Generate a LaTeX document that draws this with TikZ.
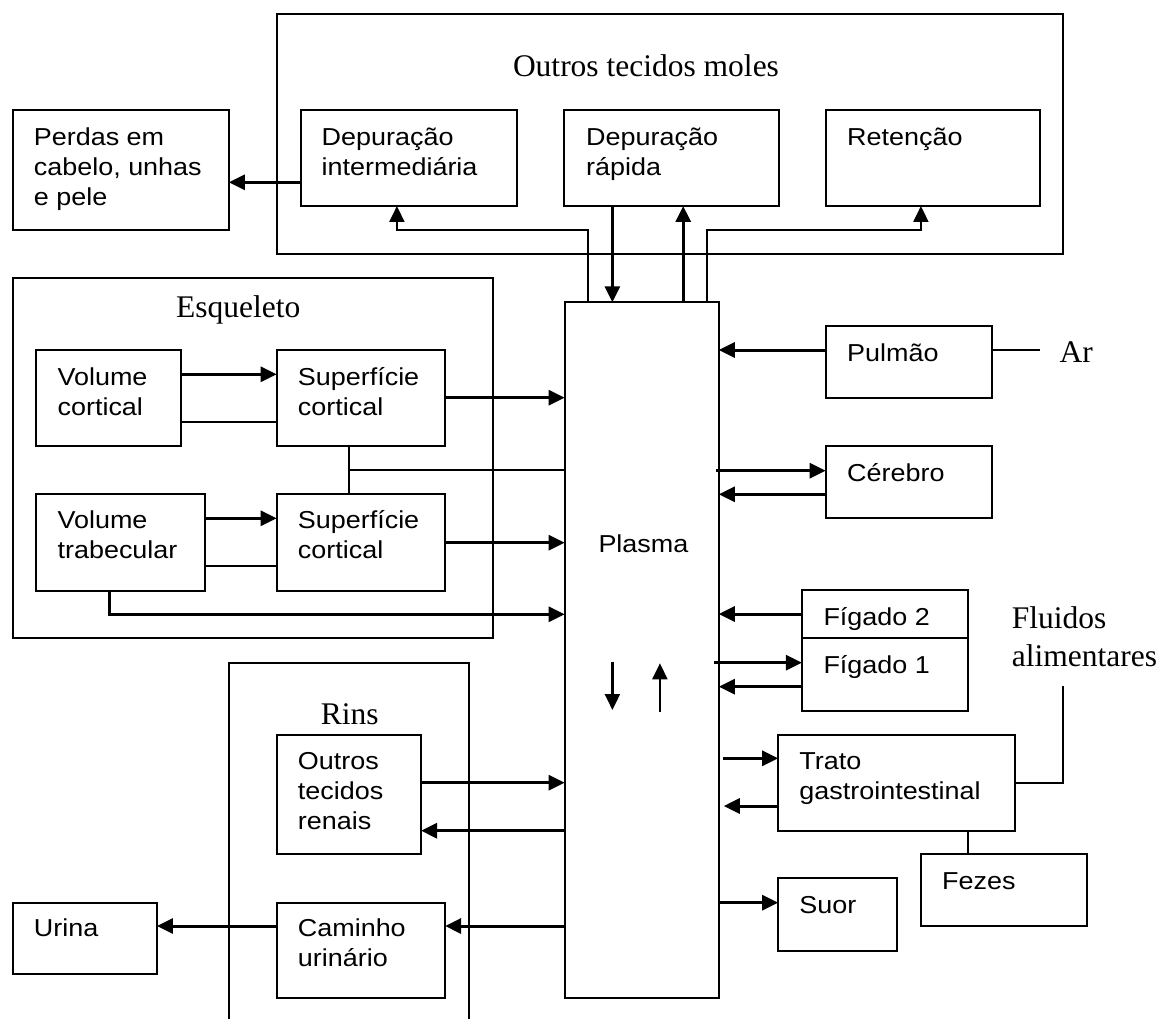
\documentclass[tikz,border=0pt]{standalone}
\usepackage{fontspec}
\setmainfont{Liberation Serif}
\newfontfamily\arialf[FakeStretch=1.1]{Liberation Sans}
\usetikzlibrary{arrows.meta}
\tikzset{
 box/.style={draw, line width=2pt, rectangle, inner sep=0pt, outer sep=0pt, anchor=north west},
 arr/.style={line width=3pt, -{Triangle[length=16pt,width=15pt]}},
 thinarr/.style={line width=2.2pt, -{Triangle[length=16pt,width=15pt]}},
 route/.style={line width=2pt, -{Triangle[length=16pt,width=15pt]}},
 plain/.style={line width=1.8pt},
 lbl/.style={font=\arialf\fontsize{24.5}{30}\selectfont, anchor=base west, inner sep=0pt},
 ttl/.style={font=\fontsize{31.5}{37.7}\selectfont, anchor=base west, inner sep=0pt},
}
\newcommand\mlines[1]{\vtop{#1}}
\begin{document}
\begin{tikzpicture}[x=1pt,y=-1pt]
\useasboundingbox (0,0) rectangle (1167,1019);
% group boxes
\node[box, minimum width=786.6pt, minimum height=240.3pt] (outros) at (276.7,14) {};
\node[box, minimum width=480.3pt, minimum height=360pt] (esq) at (12.6,278.3) {};
\draw[line width=2pt] (228.9,1019) -- (228.9,662.7) -- (469.2,662.7) -- (469.2,1019);
% titles
\node[ttl] (tOutros) at (512.8,76.7) {Outros tecidos moles};
\node[ttl] (tEsq) at (176,317.7) {Esqueleto};
\node[ttl] (tRins) at (320.7,724) {Rins};
\node[ttl] (tAr) at (1059.4,362.7) {Ar};
\node[ttl] (tFluid) at (1011.6,628.3) {\mlines{\hbox{Fluidos}\hbox{alimentares}}};
% boxes
\node[box, minimum width=216.3pt, minimum height=120pt] (perdas) at (12.6,110) {};
\node[box, minimum width=216.2pt, minimum height=96pt] (depi) at (301.2,110) {};
\node[box, minimum width=215.1pt, minimum height=96pt] (depr) at (563.8,110) {};
\node[box, minimum width=213.9pt, minimum height=96pt] (ret) at (825.6,110) {};
\node[box, minimum width=144.2pt, minimum height=96pt] (vc) at (36.4,350) {};
\node[box, minimum width=168.4pt, minimum height=96pt] (sc1) at (276.7,350) {};
\node[box, minimum width=168.3pt, minimum height=96.7pt] (vt) at (36.4,494) {};
\node[box, minimum width=168.4pt, minimum height=96.7pt] (sc2) at (276.7,494) {};
\node[box, minimum width=154.2pt, minimum height=696pt] (plasma) at (564.6,302.3) {};
\node[box, minimum width=166.4pt, minimum height=72.3pt] (pulmao) at (825.6,326) {};
\node[box, minimum width=166.4pt, minimum height=72.6pt] (cerebro) at (825.6,445.7) {};
\node[box, minimum width=166.4pt, minimum height=48.3pt] (fig2) at (801.9,590) {};
\node[lbl] (lFig2) at (823.3,625) {Fígado 2};
\node[box, fill=white, minimum width=166.4pt, minimum height=72.4pt] (fig1) at (801.9,638.3) {};
\node[box, minimum width=237.3pt, minimum height=96pt] (trato) at (778.1,734.7) {};
\node[box, minimum width=166.5pt, minimum height=71.7pt] (fezes) at (920.5,854.3) {};
\node[box, minimum width=119.1pt, minimum height=72.4pt] (suor) at (778.1,878.3) {};
\node[box, minimum width=144.3pt, minimum height=119.3pt] (otr) at (276.7,735) {};
\node[box, minimum width=168.4pt, minimum height=95.6pt] (caminho) at (276.7,902.7) {};
\node[box, minimum width=144.3pt, minimum height=71.6pt] (urina) at (12.6,902.7) {};
% labels
\node[lbl] (lPerdas) at (33.7,145.7) {\mlines{\hbox{Perdas em}\hbox{cabelo, unhas}\hbox{e pele}}};
\node[lbl] (lDepi) at (321.5,145.7) {\mlines{\hbox{Depuração}\hbox{intermediária}}};
\node[lbl] (lDepr) at (586,145.7) {\mlines{\hbox{Depuração}\hbox{rápida}}};
\node[lbl] (lRet) at (847,145.7) {Retenção};
\node[lbl] (lVc) at (57.4,385) {\mlines{\hbox{Volume}\hbox{cortical}}};
\node[lbl] (lSc1) at (297.7,385) {\mlines{\hbox{Superfície}\hbox{cortical}}};
\node[lbl] (lVt) at (57.4,528.3) {\mlines{\hbox{Volume}\hbox{trabecular}}};
\node[lbl] (lSc2) at (297.7,528.3) {\mlines{\hbox{Superfície}\hbox{cortical}}};
\node[lbl] (lPlasma) at (598.3,552.7) {Plasma};
\node[lbl] (lPulmao) at (847,361.7) {Pulmão};
\node[lbl] (lCerebro) at (847,481.7) {Cérebro};
\node[lbl] (lFig1) at (823.3,673.3) {Fígado 1};
\node[lbl] (lTrato) at (799.2,769.3) {\mlines{\hbox{Trato}\hbox{gastrointestinal}}};
\node[lbl] (lFezes) at (942,889.3) {Fezes};
\node[lbl] (lSuor) at (799.2,913.3) {Suor};
\node[lbl] (lOtr) at (297.7,769.3) {\mlines{\hbox{Outros}\hbox{tecidos}\hbox{renais}}};
\node[lbl] (lCam) at (297.7,936.7) {\mlines{\hbox{Caminho}\hbox{urinário}}};
\node[lbl] (lUrina) at (33.7,936.7) {Urina};
% connectors top
\draw[arr] (depi.west |- 0,182.3) -- (perdas.east |- 0,182.3);
\draw[route] (plasma.north -| 588,0) |- (396.9,230) -- (depi.south -| 396.9,0);
\draw[arr] (depr.south -| 612.4,0) -- (plasma.north -| 612.4,0);
\draw[arr] (plasma.north -| 683.2,0) -- (depr.south -| 683.2,0);
\draw[route] (plasma.north -| 707,0) |- (920.9,230) -- (ret.south -| 920.9,0);
% skeleton
\draw[arr] (vc.east |- 0,374.3) -- (sc1.west |- 0,374.3);
\draw[plain] (vc.east |- 0,422.3) -- (sc1.west |- 0,422.3);
\draw[arr] (sc1.east |- 0,397.7) -- (plasma.west |- 0,397.7);
\coordinate (junc) at (349,470);
\draw[plain] (sc1.south -| junc) -- (sc2.north -| junc);
\draw[plain] (junc) -- (plasma.west |- junc);
\draw[arr] (vt.east |- 0,518.3) -- (sc2.west |- 0,518.3);
\draw[plain] (vt.east |- 0,566) -- (sc2.west |- 0,566);
\draw[arr] (sc2.east |- 0,542.7) -- (plasma.west |- 0,542.7);
\draw[arr] (vt.south -| 109,0) |- (plasma.west |- 0,614.3);
% right side
\coordinate (arEnd) at (1039.5,350);
\draw[arr] (pulmao.west |- arEnd) -- (plasma.east |- arEnd);
\draw[plain] (pulmao.east |- arEnd) -- (arEnd);
\draw[arr, shorten <=-3pt] (plasma.east |- 0,470.7) -- (cerebro.west |- 0,470.7);
\draw[arr] (cerebro.west |- 0,494.3) -- (plasma.east |- 0,494.3);
\draw[arr] (fig2.west |- 0,614) -- (plasma.east |- 0,614);
\draw[arr, shorten <=-5pt] (plasma.east |- 0,662.7) -- (fig1.west |- 0,662.7);
\draw[arr] (fig1.west |- 0,686.7) -- (plasma.east |- 0,686.7);
\draw[arr, shorten <=4pt] (plasma.east |- 0,758.3) -- (trato.west |- 0,758.3);
\draw[arr, shorten >=5pt] (trato.west |- 0,806) -- (plasma.east |- 0,806);
\draw[arr] (plasma.east |- 0,902.7) -- (suor.west |- 0,902.7);
\coordinate (fa) at (1063.3,686);
\draw[plain] (fa) |- (trato.east);
\draw[plain] (trato.south -| 968.3,0) -- (fezes.north -| 968.3,0);
% kidneys
\draw[arr] (otr.east |- 0,782.7) -- (plasma.west |- 0,782.7);
\draw[arr] (plasma.west |- 0,830.7) -- (otr.east |- 0,830.7);
\draw[arr] (plasma.west |- 0,926) -- (caminho.east |- 0,926);
\draw[arr] (caminho.west |- 0,926) -- (urina.east |- 0,926);
% inner plasma arrows
\coordinate (d1) at (612.4,661.7);
\coordinate (d2) at (612.4,710);
\coordinate (u1) at (659.9,711.7);
\coordinate (u2) at (659.9,663.3);
\draw[thinarr] (d1) -- (d2);
\draw[thinarr] (u1) -- (u2);
\end{tikzpicture}
\end{document}
